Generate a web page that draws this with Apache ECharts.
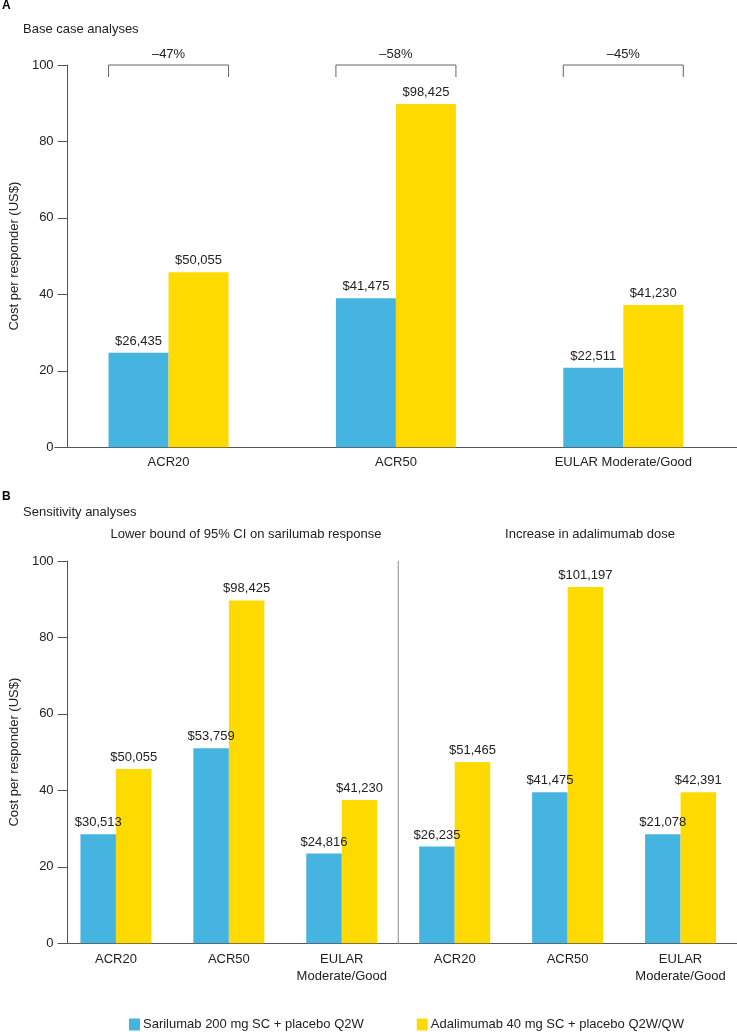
<!DOCTYPE html>
<html>
<head>
<meta charset="utf-8">
<script src="https://cdn.jsdelivr.net/npm/echarts@6/dist/echarts.min.js"></script>
<style>
html,body{margin:0;padding:0;background:#fff;}
#chart{width:737px;height:1032px;}
</style>
</head>
<body>
<div id="chart"></div>
<script>
// ---------- data ----------
const seriesNames = ['Sarilumab 200 mg SC + placebo Q2W', 'Adalimumab 40 mg SC + placebo Q2W/QW'];

const categoriesA = ['ACR20', 'ACR50', 'EULAR Moderate/Good'];
const sariA = [24.7, 39.0, 20.8];
const adalA = [45.8, 89.8, 37.2];
const sariLabelsA = ['$26,435', '$41,475', '$22,511'];
const adalLabelsA = ['$50,055', '$98,425', '$41,230'];
const bracketLabelsA = ['\u201347%', '\u201358%', '\u201345%'];

const categoriesB = ['ACR20', 'ACR50', 'EULAR\nModerate/Good', 'ACR20', 'ACR50', 'EULAR\nModerate/Good'];
const sariB = [28.5, 51.0, 23.5, 25.3, 39.5, 28.5];
const adalB = [45.6, 89.7, 37.5, 47.4, 93.2, 39.5];
const sariLabelsB = ['$30,513', '$53,759', '$24,816', '$26,235', '$41,475', '$21,078'];
const adalLabelsB = ['$50,055', '$98,425', '$41,230', '$51,465', '$101,197', '$42,391'];
const subgroupTitlesB = ['Lower bound of 95% CI on sarilumab response', 'Increase in adalimumab dose'];
const dividerBeforeIndexB = 3;

const yTicks = {min: 0, max: 100, interval: 20};

// ---------- style ----------
const FONT = "'Liberation Sans', Arial, Helvetica, sans-serif";
const BLUE = '#46B4E0';
const YELLOW = '#FFDA00';
const AXIS = '#555555';
const TEXT = '#222222';
const BAR_A = 60;
const BAR_B = 35.5;

const chart = echarts.init(document.getElementById('chart'), null, {renderer: 'canvas'});

function yAxisCfg(gridIndex, offset) {
  return {
    type: 'value', gridIndex: gridIndex,
    min: yTicks.min, max: yTicks.max, interval: yTicks.interval,
    offset: offset,
    name: 'Cost per responder (US$)', nameLocation: 'middle', nameGap: 45,
    nameTextStyle: {fontFamily: FONT, fontSize: 13, color: TEXT},
    axisLine: {show: true, lineStyle: {color: AXIS, width: 1}},
    axisTick: {show: true, length: 10, lineStyle: {color: AXIS}},
    axisLabel: {fontFamily: FONT, fontSize: 13, color: TEXT, margin: 14},
    splitLine: {show: false}
  };
}

const labelStyle = {show: true, position: 'top', distance: 5, fontFamily: FONT, fontSize: 13, color: TEXT};

const option = {
  animation: false,
  backgroundColor: '#fff',
  graphic: [
    {type: 'text', left: 2, top: 0, style: {text: 'A', font: 'bold 12px ' + FONT, fill: '#000'}},
    {type: 'text', left: 23, top: 23, style: {text: 'Base case analyses', font: '13px ' + FONT, fill: TEXT}},
    {type: 'text', left: 2, top: 491, style: {text: 'B', font: 'bold 12px ' + FONT, fill: '#000'}},
    {type: 'text', left: 23, top: 506, style: {text: 'Sensitivity analyses', font: '13px ' + FONT, fill: TEXT}},
    {type: 'text', x: 246, y: 534, style: {text: subgroupTitlesB[0], font: '13px ' + FONT, fill: TEXT, textAlign: 'center', textVerticalAlign: 'middle'}},
    {type: 'text', x: 590, y: 534, style: {text: subgroupTitlesB[1], font: '13px ' + FONT, fill: TEXT, textAlign: 'center', textVerticalAlign: 'middle'}}
  ],
  legend: {
    data: seriesNames,
    left: 129, top: 1018,
    itemWidth: 11, itemHeight: 12, itemGap: 53, padding: 0,
    icon: 'rect',
    textStyle: {fontFamily: FONT, fontSize: 13, color: TEXT, padding: [0, 0, 0, -2]}
  },
  grid: [
    {left: 51.25, width: 709.5, top: 65, height: 382.3},
    {left: 55.9, width: 690.6, top: 561, height: 382.3}
  ],
  xAxis: [
    {
      type: 'category', gridIndex: 0, data: categoriesA,
      axisLine: {lineStyle: {color: AXIS, width: 1}},
      axisTick: {show: false},
      axisLabel: {fontFamily: FONT, fontSize: 13, color: TEXT, margin: 9}
    },
    {
      type: 'category', gridIndex: 1, data: categoriesB,
      axisLine: {lineStyle: {color: AXIS, width: 1}},
      axisTick: {show: false},
      axisLabel: {fontFamily: FONT, fontSize: 13, color: TEXT, margin: 8, lineHeight: 17, interval: 0},
      splitLine: {show: false}
    }
  ],
  yAxis: [yAxisCfg(0, -12.75), yAxisCfg(1, -8.1)],
  series: [
    {
      name: seriesNames[0], type: 'bar', xAxisIndex: 0, yAxisIndex: 0,
      data: sariA, barWidth: BAR_A, barGap: '0%', itemStyle: {color: BLUE},
      label: Object.assign({}, labelStyle, {formatter: p => sariLabelsA[p.dataIndex]})
    },
    {
      name: seriesNames[1], type: 'bar', xAxisIndex: 0, yAxisIndex: 0,
      data: adalA, barWidth: BAR_A, barGap: '0%', itemStyle: {color: YELLOW},
      label: Object.assign({}, labelStyle, {formatter: p => adalLabelsA[p.dataIndex]})
    },
    {
      name: seriesNames[0], type: 'bar', xAxisIndex: 1, yAxisIndex: 1,
      data: sariB, barWidth: BAR_B, barGap: '0%', itemStyle: {color: BLUE},
      label: Object.assign({}, labelStyle, {formatter: p => sariLabelsB[p.dataIndex]})
    },
    {
      name: seriesNames[1], type: 'bar', xAxisIndex: 1, yAxisIndex: 1,
      data: adalB, barWidth: BAR_B, barGap: '0%', itemStyle: {color: YELLOW},
      label: Object.assign({}, labelStyle, {formatter: p => adalLabelsB[p.dataIndex]})
    },
    {
      type: 'custom', xAxisIndex: 0, yAxisIndex: 0, silent: true,
      data: bracketLabelsA.map((t, i) => [i, yTicks.max]),
      renderItem: function (params, api) {
        const c = api.coord([api.value(0), api.value(1)]);
        const hw = BAR_A;
        return {
          type: 'group',
          children: [
            {type: 'polyline',
             shape: {points: [[c[0] - hw, c[1] + 12], [c[0] - hw, c[1]], [c[0] + hw, c[1]], [c[0] + hw, c[1] + 12]]},
             style: {stroke: '#666', fill: null, lineWidth: 1}},
            {type: 'text', x: c[0], y: c[1] - 11,
             style: {text: bracketLabelsA[params.dataIndex], textAlign: 'center', textVerticalAlign: 'middle', fill: TEXT, font: '13px ' + FONT}}
          ]
        };
      }
    },
    {
      type: 'custom', xAxisIndex: 1, yAxisIndex: 1, silent: true,
      data: [[dividerBeforeIndexB, yTicks.max]],
      renderItem: function (params, api) {
        const top = api.coord([api.value(0), api.value(1)]);
        const bottom = api.coord([api.value(0), yTicks.min]);
        const half = api.size([1, 0])[0] / 2;
        const x = top[0] - half;
        return {
          type: 'line',
          shape: {x1: x, y1: top[1], x2: x, y2: bottom[1]},
          style: {stroke: '#888', lineWidth: 1}
        };
      }
    }
  ]
};
chart.setOption(option);
</script>
</body>
</html>
